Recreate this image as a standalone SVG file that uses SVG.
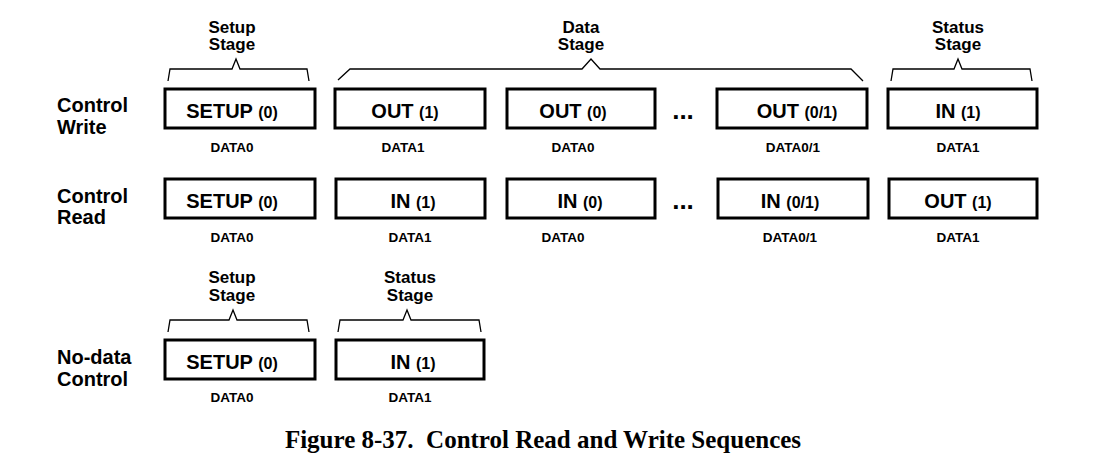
<svg xmlns="http://www.w3.org/2000/svg" width="1095" height="466" viewBox="0 0 1095 466">
<style>
.box{fill:#fff;stroke:#000;stroke-width:3}
.br{fill:none;stroke:#000;stroke-width:1.3}
.t{font-family:"Liberation Sans",Arial,sans-serif;font-weight:bold;fill:#000;text-anchor:middle}
.big{font-size:20px}
.sm{font-size:16px}
.lab{font-size:13.5px}
.stg{font-size:17px}
.dots{font-size:26px}
.row{font-family:"Liberation Sans",Arial,sans-serif;font-weight:bold;font-size:20px;fill:#000}
.cap{font-family:"Liberation Serif","Times New Roman",serif;font-weight:bold;font-size:25px;fill:#000;text-anchor:middle;white-space:pre}
</style>
<rect width="1095" height="466" fill="#fff"/>

<g id="row-labels">
<text class="row" x="57" y="112">Control</text>
<text class="row" x="57" y="134">Write</text>
<text class="row" x="57" y="203">Control</text>
<text class="row" x="57" y="224">Read</text>
<text class="row" x="57" y="364">No-data</text>
<text class="row" x="57" y="386">Control</text>
</g>

<g id="braces">
<path class="br" d="M168,81 L170,69 L232,69 L236,59 L240,69 L307,69 L309,81"/>
<path class="br" d="M338,80 L350,69 L582,69 L591,59 L600,69 L851,69 L863,81"/>
<path class="br" d="M891,81 L893,69 L954,69 L958,59 L962,69 L1030,69 L1032,81"/>
<path class="br" d="M168,332 L170,320 L229,320 L233,310 L237,320 L307,320 L309,332"/>
<path class="br" d="M338,332 L340,320 L403,320 L407,310 L411,320 L479,320 L481,332"/>
</g>

<g id="stage-labels">
<text class="t stg" x="232" y="33">Setup</text>
<text class="t stg" x="232" y="50">Stage</text>
<text class="t stg" x="581" y="33">Data</text>
<text class="t stg" x="581" y="50">Stage</text>
<text class="t stg" x="958" y="33">Status</text>
<text class="t stg" x="958" y="50">Stage</text>
<text class="t stg" x="232" y="283">Setup</text>
<text class="t stg" x="232" y="301">Stage</text>
<text class="t stg" x="410" y="283">Status</text>
<text class="t stg" x="410" y="301">Stage</text>
</g>

<g id="write-setup"><rect class="box" x="165" y="89" width="150" height="39"/>
<text class="t" x="232" y="118"><tspan class="big">SETUP </tspan><tspan class="sm">(0)</tspan></text>
<text class="t lab" x="232" y="152">DATA0</text></g>
<g id="write-out1"><rect class="box" x="335" y="89" width="150" height="39"/>
<text class="t" x="405" y="118"><tspan class="big">OUT </tspan><tspan class="sm">(1)</tspan></text>
<text class="t lab" x="403" y="152">DATA1</text></g>
<g id="write-out0"><rect class="box" x="507" y="89" width="148" height="39"/>
<text class="t" x="573" y="118"><tspan class="big">OUT </tspan><tspan class="sm">(0)</tspan></text>
<text class="t lab" x="573" y="152">DATA0</text></g>
<text class="t dots" x="683" y="119">...</text>
<g id="write-out01"><rect class="box" x="717" y="89" width="150" height="39"/>
<text class="t" x="797" y="118"><tspan class="big">OUT </tspan><tspan class="sm">(0/1)</tspan></text>
<text class="t lab" x="793" y="152">DATA0/1</text></g>
<g id="write-in1"><rect class="box" x="888" y="89" width="149" height="39"/>
<text class="t" x="958" y="118"><tspan class="big">IN </tspan><tspan class="sm">(1)</tspan></text>
<text class="t lab" x="958" y="152">DATA1</text></g>

<g id="read-setup"><rect class="box" x="165" y="179" width="150" height="39"/>
<text class="t" x="232" y="208"><tspan class="big">SETUP </tspan><tspan class="sm">(0)</tspan></text>
<text class="t lab" x="232" y="242">DATA0</text></g>
<g id="read-in1"><rect class="box" x="336" y="179" width="149" height="39"/>
<text class="t" x="413" y="208"><tspan class="big">IN </tspan><tspan class="sm">(1)</tspan></text>
<text class="t lab" x="410" y="242">DATA1</text></g>
<g id="read-in0"><rect class="box" x="507" y="179" width="148" height="39"/>
<text class="t" x="580" y="208"><tspan class="big">IN </tspan><tspan class="sm">(0)</tspan></text>
<text class="t lab" x="563" y="242">DATA0</text></g>
<text class="t dots" x="683" y="209">...</text>
<g id="read-in01"><rect class="box" x="718" y="179" width="150" height="39"/>
<text class="t" x="790" y="208"><tspan class="big">IN </tspan><tspan class="sm">(0/1)</tspan></text>
<text class="t lab" x="790" y="242">DATA0/1</text></g>
<g id="read-out1"><rect class="box" x="889" y="179" width="148" height="39"/>
<text class="t" x="958" y="208"><tspan class="big">OUT </tspan><tspan class="sm">(1)</tspan></text>
<text class="t lab" x="958" y="242">DATA1</text></g>

<g id="nodata-setup"><rect class="box" x="165" y="340" width="150" height="39"/>
<text class="t" x="232" y="369"><tspan class="big">SETUP </tspan><tspan class="sm">(0)</tspan></text>
<text class="t lab" x="232" y="402">DATA0</text></g>
<g id="nodata-in1"><rect class="box" x="336" y="340" width="148" height="39"/>
<text class="t" x="413" y="369"><tspan class="big">IN </tspan><tspan class="sm">(1)</tspan></text>
<text class="t lab" x="410" y="402">DATA1</text></g>

<text class="cap" x="543" y="448">Figure 8-37.  Control Read and Write Sequences</text>
</svg>
